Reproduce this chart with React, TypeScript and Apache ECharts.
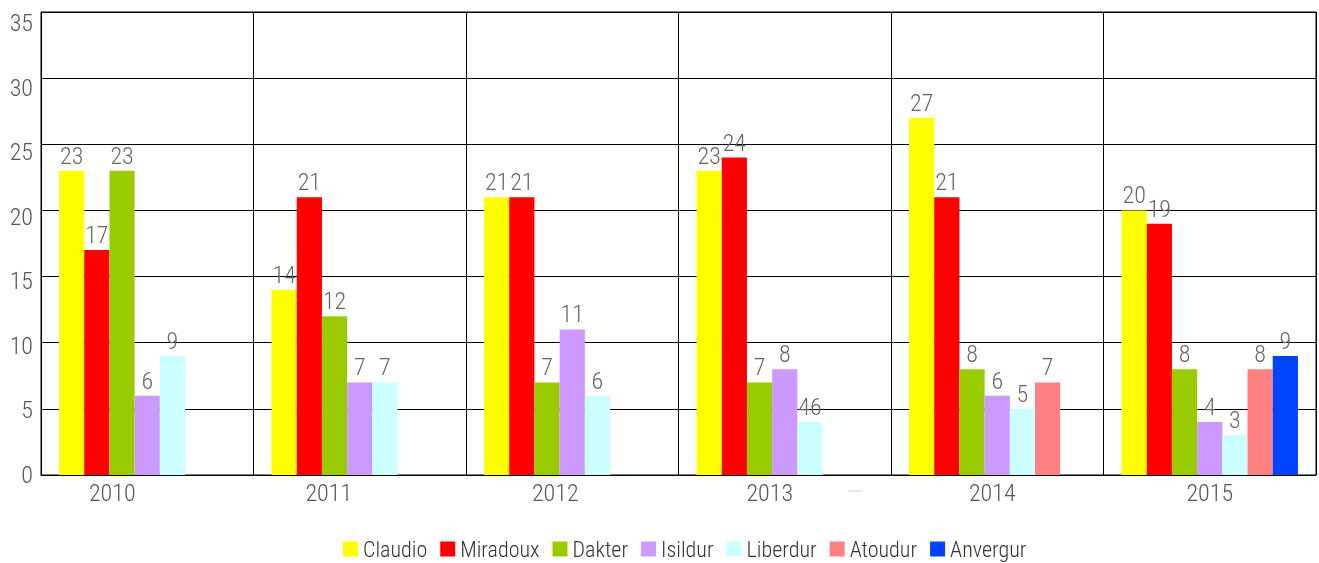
import React, { useEffect, useRef } from "react";
import * as echarts from "echarts";

const years = ["2010", "2011", "2012", "2013", "2014", "2015"];
const seriesNames = ["Claudio", "Miradoux", "Dakter", "Isildur", "Liberdur", "Atoudur", "Anvergur"];
const colors = ["#ffff00", "#ff0000", "#99cc00", "#cc99ff", "#ccffff", "#ff8080", "#0044ff"];
const claudio = [23, 14, 21, 23, 27, 20];
const miradoux = [17, 21, 21, 24, 21, 19];
const dakter = [23, 12, 7, 7, 8, 8];
const isildur = [6, 7, 11, 8, 6, 4];
const liberdur = [9, 7, 6, 4, 5, 3];
const atoudur = [null, null, null, null, 7, 8];
const anvergur = [null, null, null, null, null, 9];
// label text shown in the source where it differs from the value
const labelOverrides: Record<string, string> = { "Liberdur-3": "46" };
const yTicks = { min: 0, max: 35, interval: 5 };

// style: horizontal shift (px, leftwards) of each category label as seen in the source
const xLabelShift = [35, 31, 17, 15, 5, 0];

const FONT = "'Roboto Condensed', 'Liberation Sans Narrow', sans-serif";
const FW = 300;

export default function App() {
  const ref = useRef<HTMLDivElement>(null);
  useEffect(() => {
    const chart = echarts.init(ref.current!, null, { renderer: "svg" });
    const all = [claudio, miradoux, dakter, isildur, liberdur, atoudur, anvergur];
    const rich: Record<string, any> = {};
    xLabelShift.forEach((s, i) => {
      rich["c" + i] = {
        fontSize: 24,
        color: "#555",
        fontWeight: FW,
        fontFamily: FONT,
        padding: [0, 2 * s, 0, 0],
      };
    });
    chart.setOption({
      animation: false,
      textStyle: { fontFamily: FONT },
      grid: {
        left: 41,
        right: 3,
        top: 12,
        bottom: 88,
        show: true,
        borderColor: "#000",
        borderWidth: 1,
      },
      legend: {
        top: 533,
        left: 338,
        itemWidth: 15,
        itemHeight: 15,
        itemGap: 13,
        icon: "rect",
        textStyle: { fontSize: 22, color: "#333", fontFamily: FONT, fontWeight: FW, padding: [0, 0, 0, 0] },
        data: seriesNames,
      },
      xAxis: {
        type: "category",
        data: years,
        axisLine: { lineStyle: { color: "#000" } },
        axisTick: { show: false },
        axisLabel: {
          fontSize: 24,
          color: "#555",
          fontWeight: FW,
          margin: 6,
          formatter: (v: string, i: number) => `{c${i}|${v}}`,
          rich,
        },
        splitLine: { show: true, lineStyle: { color: "#000", width: 1 } },
      },
      yAxis: [
        {
          type: "value",
          min: yTicks.min,
          max: yTicks.max,
          interval: yTicks.interval,
          axisLine: { show: true, lineStyle: { color: "#000" } },
          axisTick: { show: false },
          axisLabel: { show: false },
          splitLine: { lineStyle: { color: "#000", width: 1 } },
        },
        {
          type: "value",
          position: "left",
          min: yTicks.min,
          max: 35.85,
          interval: yTicks.interval,
          axisLine: { show: false },
          axisTick: { show: false },
          splitLine: { show: false },
          axisLabel: {
            fontSize: 24,
            color: "#555",
            fontWeight: FW,
            margin: 8,
            formatter: (v: number) => (v % 5 === 0 ? String(v) : ""),
          },
        },
      ],
      series: seriesNames.map((name, si) => ({
        name,
        type: "bar",
        yAxisIndex: 0,
        barGap: "0%",
        barCategoryGap: "17%",
        itemStyle: { color: colors[si] },
        label: {
          show: true,
          position: "top",
          distance: 3,
          fontSize: 24,
          color: "#666",
          fontWeight: FW,
          fontFamily: FONT,
        },
        data: all[si].map((v, i) => {
          const key = `${name}-${i}`;
          if (v === null) return "-";
          if (labelOverrides[key]) return { value: v, label: { formatter: labelOverrides[key] } };
          return v;
        }),
      })),
      graphic: [
        {
          type: "line",
          shape: { x1: 848, y1: 491, x2: 862, y2: 491 },
          style: { stroke: "#c8d4e4", lineWidth: 1 },
        },
      ],
    });
    return () => chart.dispose();
  }, []);
  return (
    <div
      ref={ref}
      style={{ position: "fixed", left: 0, top: 0, width: 1319, height: 563, overflow: "hidden" }}
    />
  );
}
